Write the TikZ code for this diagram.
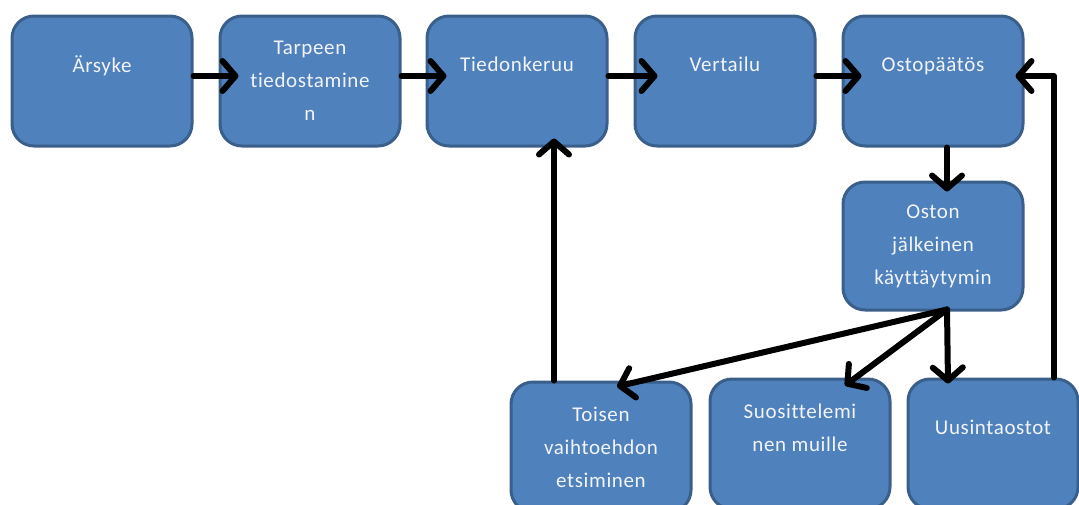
\documentclass[tikz,border=0pt]{standalone}
\usepackage{fontspec}
\setmainfont[Ligatures=NoCommon,LetterSpace=3]{Carlito}
\usetikzlibrary{arrows.meta}
\definecolor{boxfill}{HTML}{4F81BD}
\definecolor{boxline}{HTML}{3A5F8B}
\definecolor{boxtext}{HTML}{F2F4FA}
\begin{document}
\begin{tikzpicture}[x=1pt,y=-1pt,
  box/.style={rectangle,rounded corners=22pt,fill=boxfill,draw=boxline,line width=3pt,
    minimum width=180pt,minimum height=130pt,align=center,text=boxtext,
    font={\fontsize{21}{33}\selectfont}},
  arr/.style={line width=6pt,line cap=round,line join=round,
    -{Straight Barb[length=13pt,width=30pt,line cap=round,line join=round]}}]
\useasboundingbox (0,0) rectangle (1079,504);
\clip (0,0) rectangle (1079,504);
% top row
\node (arsyke) at (102,81) [box] {Ärsyke\\~};
\node (tarpeen) at (310,81) [box] {Tarpeen\\tiedostamine\\n};
\node (tied) at (517,81) [box] {Tiedonkeruu\\~};
\node (vert) at (725,81) [box] {Vertailu\\~};
\node (osto) at (933,81) [box] {Ostopäätös\\~};
% after purchase
\node (oston) at (933,246) [box,minimum height=128pt] {Oston\\jälkeinen\\käyttäytymin};
\node (toisen) at (601,447) [box] {Toisen\\vaihtoehdon\\etsiminen};
\node (suos) at (800,444) [box] {Suosittelemi\\nen muille\\~};
\node (uusi) at (993,444) [box,minimum width=170pt] {Uusintaostot\\~};
% arrows
\draw[arr,shorten >=-20pt] ([yshift=5pt]arsyke.east) -- ([yshift=5pt]tarpeen.west);
\draw[arr,shorten >=-21pt] ([yshift=5pt]tarpeen.east) -- ([yshift=5pt]tied.west);
\draw[arr,shorten >=-24pt] ([yshift=5pt]tied.east) -- ([yshift=5pt]vert.west);
\draw[arr,shorten >=-20pt] ([yshift=5pt]vert.east) -- ([yshift=5pt]osto.west);
\draw[arr,shorten >=-11pt] ([xshift=14pt]osto.south) -- ([xshift=14pt]oston.north);
\draw[arr] ([xshift=14pt,yshift=2pt]oston.south) -- ([xshift=16pt,yshift=-6pt]toisen.north);
\draw[arr] ([xshift=14pt,yshift=2pt]oston.south) -- ([xshift=45pt,yshift=-8pt]suos.north);
\draw[arr] ([xshift=14pt,yshift=2pt]oston.south) -- ([xshift=-45pt,yshift=-6pt]uusi.north);
\draw[arr,shorten >=-9pt] ([xshift=-47pt]toisen.north) -- ([xshift=-47pt]toisen.north |- tied.south);
\draw[arr,shorten >=-9pt] ([xshift=61pt]uusi.north) |- ([yshift=5pt]osto.east);
\end{tikzpicture}
\end{document}
